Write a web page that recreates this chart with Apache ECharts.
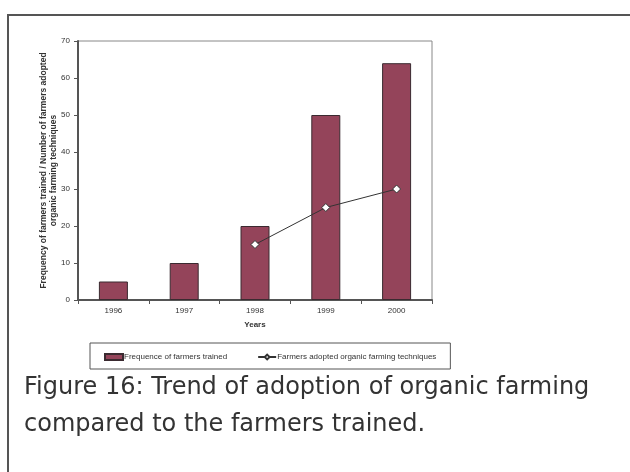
<!DOCTYPE html>
<html>
<head>
<meta charset="utf-8">
<script src="https://cdn.jsdelivr.net/npm/echarts@6/dist/echarts.min.js"></script>
<style>
  html, body { margin: 0; padding: 0; background: #fff; }
  #chart { width: 630px; height: 472px; }
</style>
</head>
<body>
<div id="chart"></div>
<script>
const years = ['1996', '1997', '1998', '1999', '2000']
const trained = [5, 10, 20, 50, 64]
const adopted = [null, null, 15, 25, 30]
const yTicks = { min: 0, max: 70, interval: 10 }

const chart = echarts.init(document.getElementById('chart'))

chart.setOption({
  animation: false,
  textStyle: { fontFamily: 'Liberation Sans, Arial, sans-serif', color: '#333' },
  grid: { left: 78, right: 198, top: 41, bottom: 172 },
  graphic: [
    {
      type: 'polyline',
      shape: { points: [[8, 472], [8, 15], [630, 15]] },
      style: { stroke: '#555', lineWidth: 2, fill: null }
    },
    {
      type: 'rect',
      shape: { x: 78, y: 41, width: 354, height: 259 },
      style: { stroke: '#888', lineWidth: 1, fill: null },
      z: 0
    },
    {
      type: 'text',
      left: 24,
      top: 369,
      style: {
        text: 'Figure 16: Trend of adoption of organic farming\ncompared to the farmers trained.',
        font: '24px "Comic Sans MS", "DejaVu Sans", sans-serif',
        fill: '#333',
        lineHeight: 37
      }
    }
  ],
  legend: {
    left: 90,
    top: 343,
    width: 358,
    padding: [10, 14, 8, 14],
    itemGap: 30,
    itemWidth: 18,
    itemHeight: 6,
    borderColor: '#555',
    borderWidth: 1,
    textStyle: { fontSize: 8, color: '#333', padding: [0, 0, 0, -4] },
    data: [
      { name: 'Frequence of farmers trained', icon: 'rect' },
      { name: 'Farmers adopted organic farming techniques' }
    ]
  },
  xAxis: {
    type: 'category',
    data: years,
    name: 'Years',
    nameLocation: 'middle',
    nameGap: 21,
    nameTextStyle: { fontSize: 8, fontWeight: 'bold', color: '#333' },
    axisLine: { lineStyle: { color: '#555', width: 2 } },
    axisTick: { show: true, length: 4, lineStyle: { color: '#555' } },
    axisLabel: { fontSize: 8, color: '#333', margin: 7 }
  },
  yAxis: {
    type: 'value',
    min: yTicks.min,
    max: yTicks.max,
    interval: yTicks.interval,
    name: 'Frequency of farmers trained / Number of farmers adopted\norganic farming techniques',
    nameLocation: 'middle',
    nameGap: 19,
    nameMoveOverlap: false,
    nameTextStyle: { fontSize: 8.5, fontWeight: 'bold', color: '#333', lineHeight: 10 },
    axisLine: { show: true, lineStyle: { color: '#555', width: 2 } },
    axisTick: { show: true, length: 4, lineStyle: { color: '#555' } },
    axisLabel: { fontSize: 8, color: '#333', margin: 8 },
    splitLine: { show: false }
  },
  series: [
    {
      name: 'Frequence of farmers trained',
      type: 'bar',
      data: trained,
      barWidth: 29,
      itemStyle: { color: '#94445a', borderColor: '#3a2a30', borderWidth: 1 }
    },
    {
      name: 'Farmers adopted organic farming techniques',
      type: 'line',
      data: adopted,
      symbol: 'diamond',
      symbolSize: 8,
      lineStyle: { color: '#333', width: 1 },
      itemStyle: { color: '#fff', borderColor: '#333', borderWidth: 1 }
    }
  ]
})
</script>
</body>
</html>
